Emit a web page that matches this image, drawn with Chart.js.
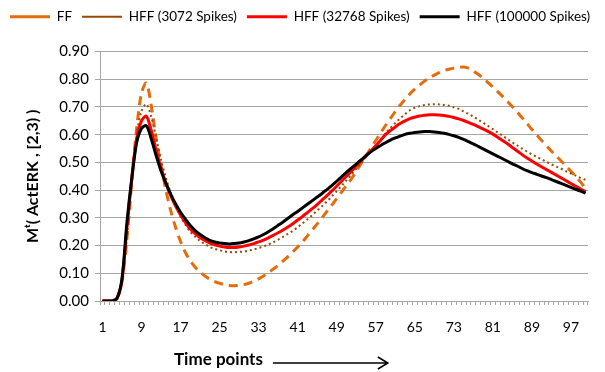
<!DOCTYPE html>
<html>
<head>
<meta charset="utf-8">
<script src="https://cdn.jsdelivr.net/npm/chart.js@4"></script>
<style>
  html, body { margin: 0; padding: 0; background: #fff; }
  #wrap { width: 605px; height: 372px; position: relative; }
</style>
</head>
<body>
<div id="wrap"><canvas id="erkChart" width="605" height="372"></canvas></div>
<script>
// ---- data ----
const timePoints = Array.from({ length: 100 }, (_, i) => String(i + 1));
const xTickLabels = ['1', '9', '17', '25', '33', '41', '49', '57', '65', '73', '81', '89', '97'];

const ff = [
  0, 0, 0, 0.01, 0.07, 0.22, 0.43, 0.62, 0.75, 0.786,
  0.705, 0.585, 0.49, 0.40, 0.325, 0.265, 0.215, 0.175, 0.145, 0.122,
  0.104, 0.09, 0.079, 0.07, 0.064, 0.059, 0.056, 0.055, 0.056, 0.059,
  0.064, 0.071, 0.08, 0.09, 0.102, 0.115, 0.129, 0.144, 0.16, 0.177,
  0.195, 0.214, 0.235, 0.256, 0.278, 0.3, 0.323, 0.346, 0.369, 0.393,
  0.417, 0.44, 0.468, 0.496, 0.524, 0.551, 0.579, 0.606, 0.633, 0.658,
  0.683, 0.706, 0.727, 0.747, 0.764, 0.779, 0.793, 0.805, 0.815, 0.824,
  0.831, 0.836, 0.84, 0.843, 0.844, 0.84, 0.83, 0.818, 0.804, 0.788,
  0.772, 0.755, 0.738, 0.72, 0.701, 0.682, 0.661, 0.64, 0.619, 0.599,
  0.579, 0.56, 0.541, 0.523, 0.505, 0.487, 0.468, 0.449, 0.429, 0.405
];

const hff3072 = [
  0, 0, 0, 0.01, 0.07, 0.23, 0.44, 0.6, 0.685, 0.71,
  0.665, 0.59, 0.51, 0.445, 0.39, 0.345, 0.305, 0.275, 0.25, 0.232,
  0.217, 0.205, 0.195, 0.188, 0.183, 0.179, 0.177, 0.176, 0.177, 0.179,
  0.182, 0.186, 0.191, 0.197, 0.204, 0.212, 0.221, 0.231, 0.242, 0.253,
  0.266, 0.28, 0.295, 0.31, 0.326, 0.342, 0.359, 0.377, 0.396, 0.415,
  0.435, 0.456, 0.477, 0.498, 0.519, 0.539, 0.56, 0.582, 0.604, 0.624,
  0.642, 0.659, 0.674, 0.688, 0.697, 0.703, 0.707, 0.709, 0.71, 0.709,
  0.707, 0.704, 0.699, 0.693, 0.684, 0.675, 0.665, 0.654, 0.643, 0.632,
  0.62, 0.608, 0.596, 0.584, 0.572, 0.561, 0.55, 0.539, 0.529, 0.52,
  0.511, 0.502, 0.493, 0.485, 0.477, 0.468, 0.46, 0.452, 0.444, 0.437
];

const hff32768 = [
  0, 0, 0, 0.01, 0.075, 0.26, 0.44, 0.585, 0.65, 0.667,
  0.615, 0.545, 0.48, 0.425, 0.38, 0.342, 0.31, 0.283, 0.26, 0.243,
  0.229, 0.218, 0.209, 0.203, 0.198, 0.195, 0.193, 0.193, 0.195, 0.198,
  0.202, 0.207, 0.213, 0.22, 0.228, 0.237, 0.246, 0.256, 0.267, 0.279,
  0.292, 0.305, 0.319, 0.333, 0.348, 0.364, 0.38, 0.397, 0.414, 0.432,
  0.45, 0.468, 0.487, 0.505, 0.523, 0.541, 0.56, 0.58, 0.6, 0.615,
  0.628, 0.64, 0.65, 0.658, 0.663, 0.667, 0.67, 0.672, 0.672, 0.671,
  0.669, 0.666, 0.662, 0.657, 0.651, 0.644, 0.637, 0.629, 0.621, 0.612,
  0.602, 0.591, 0.579, 0.567, 0.554, 0.541, 0.528, 0.516, 0.505, 0.494,
  0.484, 0.474, 0.464, 0.454, 0.444, 0.434, 0.424, 0.414, 0.404, 0.395
];

const hff100000 = [
  0, 0, 0, 0.01, 0.08, 0.28, 0.44, 0.57, 0.622, 0.632,
  0.585, 0.525, 0.47, 0.425, 0.385, 0.35, 0.32, 0.295, 0.272, 0.254,
  0.24, 0.228, 0.219, 0.213, 0.209, 0.207, 0.206, 0.207, 0.209, 0.213,
  0.218, 0.224, 0.231, 0.24, 0.25, 0.261, 0.273, 0.285, 0.298, 0.311,
  0.323, 0.336, 0.349, 0.362, 0.375, 0.388, 0.402, 0.416, 0.432, 0.448,
  0.464, 0.479, 0.494, 0.509, 0.524, 0.538, 0.55, 0.561, 0.571, 0.58,
  0.588, 0.595, 0.601, 0.605, 0.608, 0.61, 0.611, 0.611, 0.61, 0.608,
  0.605, 0.601, 0.596, 0.59, 0.583, 0.575, 0.567, 0.558, 0.549, 0.54,
  0.531, 0.522, 0.513, 0.504, 0.495, 0.487, 0.478, 0.47, 0.463, 0.457,
  0.451, 0.445, 0.438, 0.431, 0.424, 0.417, 0.41, 0.403, 0.396, 0.389
];

const FONT = "Lato, 'Liberation Sans', sans-serif";
const GRID = '#a6a6a6';

// push the plot down a bit below the legend
const legendGap = {
  id: 'legendGap',
  beforeInit(chart) {
    if (!chart.legend) return;
    const fit = chart.legend.fit;
    chart.legend.fit = function () {
      fit.bind(chart.legend)();
      this.height += 18;
    };
  }
};

// "Time points ----->" caption under the x axis
const timeCaption = {
  id: 'timeCaption',
  afterDraw(chart) {
    const { ctx, chartArea } = chart;
    const x = chartArea.left + 74;
    const y = 360;
    ctx.save();
    ctx.font = "bold 17px " + FONT;
    ctx.fillStyle = '#000';
    ctx.textBaseline = 'middle';
    ctx.fillText('Time points', x, y);
    const w = ctx.measureText('Time points').width;
    const a0 = x + w + 10, a1 = a0 + 115;
    ctx.strokeStyle = '#000';
    ctx.lineWidth = 1.5;
    ctx.beginPath();
    ctx.moveTo(a0, y + 3);
    ctx.lineTo(a1, y + 3);
    ctx.moveTo(a1 - 10, y - 3);
    ctx.lineTo(a1, y + 3);
    ctx.lineTo(a1 - 10, y + 9);
    ctx.stroke();
    ctx.restore();
  }
};

const ctx = document.getElementById('erkChart').getContext('2d');

new Chart(ctx, {
  type: 'line',
  data: {
    labels: timePoints,
    datasets: [{
      label: 'FF',
      data: ff,
      borderColor: '#E46C0A',
      borderWidth: 3,
      borderDash: [9, 6],
      order: 4
    }, {
      label: 'HFF (3072 Spikes)',
      data: hff3072,
      borderColor: '#984807',
      borderWidth: 2,
      borderDash: [2, 3],
      order: 3
    }, {
      label: 'HFF (32768 Spikes)',
      data: hff32768,
      borderColor: '#FF0000',
      borderWidth: 3,
      order: 2
    }, {
      label: 'HFF (100000 Spikes)',
      data: hff100000,
      borderColor: '#000000',
      borderWidth: 3,
      order: 1
    }]
  },
  options: {
    responsive: false,
    animation: false,
    devicePixelRatio: 1,
    layout: { padding: 0 },
    elements: {
      point: { radius: 0 },
      line: { tension: 0.3, fill: false }
    },
    plugins: {
      tooltip: { enabled: false },
      legend: {
        position: 'top',
        align: 'start',
        labels: {
          usePointStyle: true,
          pointStyle: 'line',
          pointStyleWidth: 40,
          padding: 10,
          color: '#000',
          font: { family: FONT, size: 13.5 },
          sort: (a, b) => a.datasetIndex - b.datasetIndex
        }
      }
    },
    scales: {
      x: {
        offset: true,
        grid: {
          display: true,
          offset: true,
          drawOnChartArea: false,
          drawTicks: true,
          tickLength: 4,
          color: GRID
        },
        border: { color: GRID, width: 1 },
        ticks: {
          autoSkip: false,
          maxRotation: 0,
          padding: 14,
          color: '#000',
          font: { family: FONT, size: 14 },
          callback: function (value) {
            const lab = this.getLabelForValue(value);
            return xTickLabels.includes(lab) ? lab : '';
          }
        },
        afterFit: scale => { scale.height = 71; }
      },
      y: {
        min: 0,
        max: 0.9,
        grid: { color: GRID, tickLength: 5 },
        border: { color: GRID, width: 1 },
        ticks: {
          stepSize: 0.1,
          padding: 6,
          color: '#000',
          font: { family: FONT, size: 15 },
          callback: v => v.toFixed(2)
        },
        title: {
          display: true,
          text: 'Mᵗ( ActERK , [2,3) )',
          color: '#000',
          font: { family: FONT, size: 16, weight: 'bold' },
          padding: { top: 23, bottom: 4 }
        },
        afterFit: scale => { scale.width = 100; }
      },
      // empty strip on the right so the plot stops short of the edge
      yRight: {
        position: 'right',
        display: true,
        grid: { display: false, drawTicks: false },
        border: { display: false },
        ticks: { display: false },
        afterFit: scale => { scale.width = 17; }
      }
    }
  },
  plugins: [legendGap, timeCaption]
});
</script>
</body>
</html>
